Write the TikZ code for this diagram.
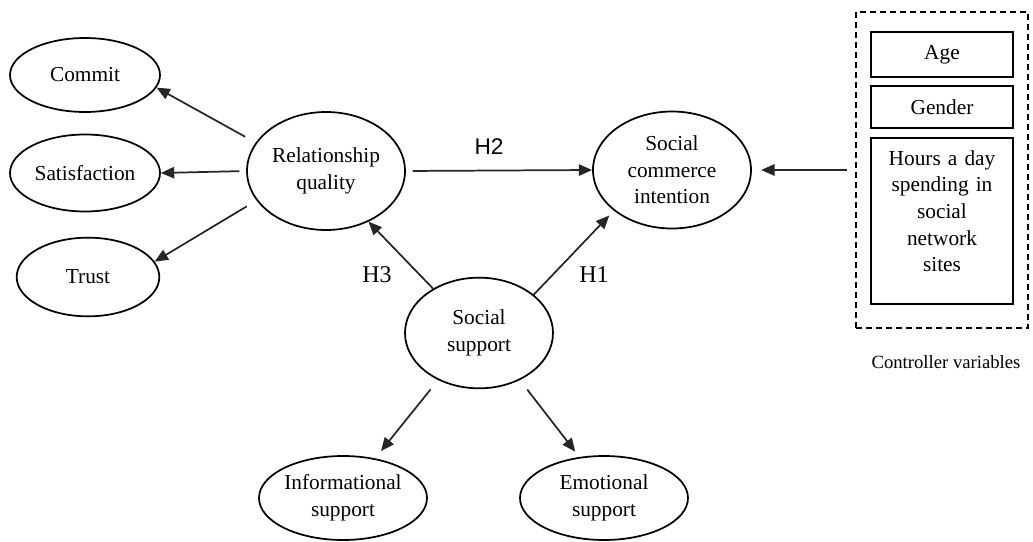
\documentclass[tikz,border=0pt]{standalone}
\usepackage{fontspec}
\setmainfont{Liberation Serif}
\newfontfamily\hypsans{Liberation Sans}
\usetikzlibrary{arrows.meta, shapes.geometric}

\begin{document}
\begin{tikzpicture}[
	x = 0.75pt, y = -0.75pt,
	construct/.style = {draw, ellipse, line width = 1.3pt, inner sep = 0pt, align = center,
		font = \rmfamily\fontsize{16}{20}\selectfont},
	ctrlbox/.style = {draw, rectangle, line width = 1.5pt, minimum width = 106.5pt, inner sep = 0pt,
		align = center, text width = 100pt, font = \rmfamily\fontsize{16}{20}\selectfont},
	link/.style = {-{Triangle[length = 10pt, width = 8.5pt]}, line width = 1.3pt, black!85},
	hyp/.style = {font = \rmfamily\fontsize{18}{18}\selectfont}
]

\useasboundingbox (0, 0) rectangle (1033, 542);

\node[construct, minimum width = 112.5pt, minimum height = 55.5pt] (commit) at (85, 75) {Commit};
\node[construct, minimum width = 112.5pt, minimum height = 57.75pt] (sat) at (85, 173) {Satisfaction};
\node[construct, minimum width = 107pt, minimum height = 59pt] (trust) at (88, 277) {Trust};
\node[construct, minimum width = 118.5pt, minimum height = 88.5pt] (rq) at (326, 171) {Relationship\\quality};
\node[construct, minimum width = 118.5pt, minimum height = 87.75pt] (sci) at (672, 170) {Social\\commerce\\intention};
\node[construct, minimum width = 111pt, minimum height = 83pt] (ss) at (479, 333) {Social\\support};
\node[construct, minimum width = 126pt, minimum height = 63pt] (info) at (343, 498) {Informational\\support};
\node[construct, minimum width = 126pt, minimum height = 63pt] (emo) at (604, 498) {Emotional\\support};

\node[draw, dashed, dash pattern = on 4.5pt off 3pt, line width = 1.5pt,
	minimum width = 129pt, minimum height = 237pt] (ctrl) at (942, 170) {};
\node[ctrlbox, minimum height = 33.75pt] (age) at (942, 54.5) {Age};
\node[ctrlbox, minimum height = 31.5pt] (gender) at (942, 107) {Gender};
\node[ctrlbox, minimum height = 124.5pt] (hours) at (942, 221) {Hours a day\\spending in\\social\\network\\sites\\[-5pt]\mbox{}};
\node[font = \rmfamily\fontsize{14}{14}\selectfont] (ctrllabel) at (946, 362) {Controller variables};

\foreach \src/\dst/\gap in {rq.158/commit.-10/9pt, rq.west/sat.east/5pt, rq.203/trust.13/8.5pt}
	\draw[link, shorten <= \gap] (\src) -- (\dst);

\draw[link, shorten <= 5pt] (rq.east) -- (sci.west);
\draw[link] (ss.136) -- (rq.-50);
\draw[link, shorten >= 5pt] (ss.35) -- (sci.215);
\draw[link, shorten <= 9pt, shorten >= 7pt] (ss.229) -- (info.51);
\draw[link, shorten <= 9pt, shorten >= 5pt] (ss.311) -- (emo.121);
\draw[link, shorten <= 6pt, shorten >= 7pt] (ctrl.west) -- (sci.east);

\node[hyp, font = \hypsans\fontsize{17}{17}\selectfont] (h2) at (489, 147) {H2};
\node[hyp] (h3) at (377, 275) {H3};
\node[hyp] (h1) at (594, 275) {H1};
\end{tikzpicture}
\end{document}
